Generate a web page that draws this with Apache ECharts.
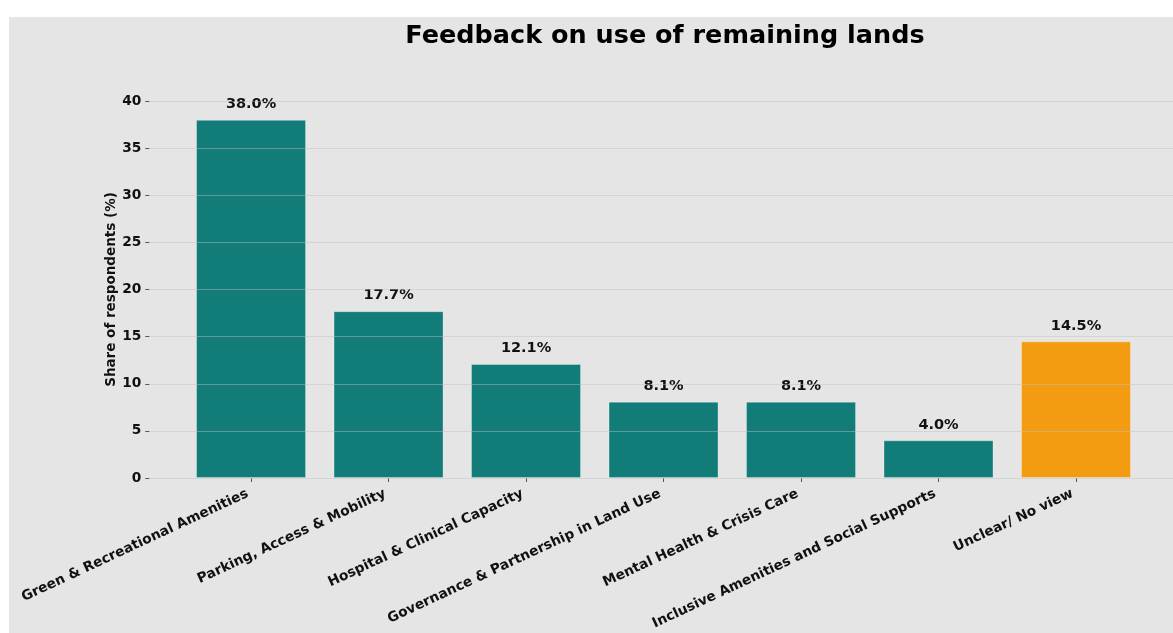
<!DOCTYPE html>
<html>
<head>
<meta charset="utf-8">
<script src="https://cdn.jsdelivr.net/npm/echarts@6/dist/echarts.min.js"></script>
<style>
  html, body { margin: 0; padding: 0; background: #ffffff; }
  #chart { width: 1173px; height: 633px; }
</style>
</head>
<body>
<div id="chart"></div>
<script>
// Survey themes and the share of respondents who raised each one
const categories = [
  'Green & Recreational Amenities',
  'Parking, Access & Mobility',
  'Hospital & Clinical Capacity',
  'Governance & Partnership in Land Use',
  'Mental Health & Crisis Care',
  'Inclusive Amenities and Social Supports',
  'Unclear/ No view'
];
const shares = [38.0, 17.7, 12.1, 8.1, 8.1, 4.0, 14.5];
const yTicks = [0, 5, 10, 15, 20, 25, 30, 35, 40];

const TEAL = '#127c79';
const ORANGE = '#f39c12';
const FONT = "'DejaVu Sans', sans-serif";

// category slots sit at integer positions on the x axis
const positions = categories.map((_, i) => i);
// rotated labels end just under their tick
const LABEL_NUDGE = -0.025;
const labelPositions = positions.map((p) => p + LABEL_NUDGE);

const barData = shares.map((v, i) => ({
  value: [i, v],
  itemStyle: { color: categories[i] === 'Unclear/ No view' ? ORANGE : TEAL }
}));

const chart = echarts.init(document.getElementById('chart'), null, { renderer: 'canvas' });
chart.setOption({
  backgroundColor: '#ffffff',
  animation: false,
  graphic: [{
    type: 'rect',
    z: -10,
    silent: true,
    shape: { x: 9, y: 17, width: 1164, height: 616 },
    style: { fill: '#e5e5e5' }
  }],
  title: {
    text: 'Feedback on use of remaining lands',
    left: 660,
    top: 18,
    textAlign: 'center',
    textStyle: { fontFamily: FONT, fontWeight: 'bold', fontSize: 25.5, color: '#000000' }
  },
  grid: { left: 149.3, right: -4.75, top: 101, bottom: 155, containLabel: false, outerBoundsMode: 'none' },
  xAxis: {
    type: 'value',
    min: -0.74,
    max: 6.74,
    splitLine: { show: false },
    axisLine: { show: false, onZero: false },
    axisTick: { show: true, customValues: positions, length: 4, lineStyle: { color: '#555555', width: 1 } },
    axisLabel: {
      customValues: labelPositions,
      rotate: 25,
      margin: 15,
      formatter: (v) => categories[Math.round(v)],
      fontFamily: FONT, fontWeight: 'bold', fontSize: 13.75, color: '#111111'
    }
  },
  yAxis: {
    type: 'value',
    min: 0,
    max: 40,
    interval: 5,
    z: 5,
    name: 'Share of respondents (%)',
    nameLocation: 'middle',
    nameGap: 31,
    nameMoveOverlap: false,
    nameTextStyle: { fontFamily: FONT, fontWeight: 'bold', fontSize: 13.5, color: '#111111' },
    axisLine: { show: false, onZero: false },
    axisTick: { show: true, length: 4, lineStyle: { color: '#555555', width: 1 } },
    axisLabel: {
      margin: 8,
      formatter: (v) => yTicks.includes(v) ? String(v) : '',
      fontFamily: FONT, fontWeight: 'bold', fontSize: 13.75, color: '#111111'
    },
    splitLine: { show: true, lineStyle: { color: 'rgba(190,190,190,0.45)', width: 1.2 } }
  },
  series: [{
    type: 'bar',
    data: barData,
    barWidth: '80%',
    itemStyle: { borderColor: 'rgba(255,255,255,0.3)', borderWidth: 1 },
    label: {
      show: true,
      position: 'top',
      distance: 8,
      formatter: (p) => p.value[1].toFixed(1) + '%',
      fontFamily: FONT, fontWeight: 'bold', fontSize: 14.5, color: '#111111'
    }
  }]
});
</script>
</body>
</html>
